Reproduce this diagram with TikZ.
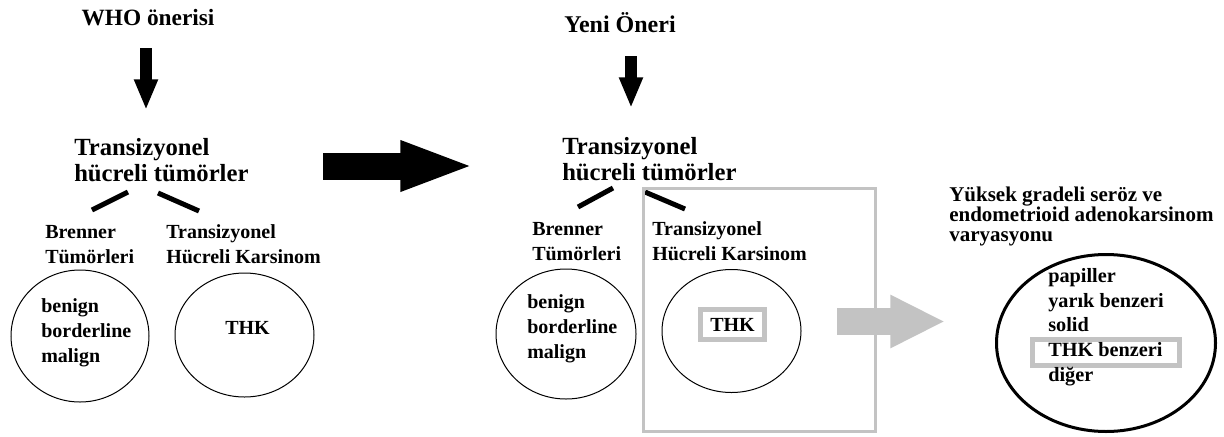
\documentclass[tikz,border=0pt]{standalone}
\usepackage{fontspec}
\setmainfont{Liberation Serif}
\usetikzlibrary{arrows.meta,shapes.geometric}
\definecolor{boxgray}{RGB}{195,195,195}

\begin{document}
\begin{tikzpicture}[x=0.75pt,y=0.75pt,yscale=-1,xscale=1,
    lbl/.style={anchor=north west, inner sep=0pt, align=left, font=\bfseries\fontsize{15}{18.75}\selectfont},
    ttl/.style={anchor=north west, inner sep=0pt, align=left, font=\bfseries\fontsize{18.5}{19.5}\selectfont},
    head/.style={anchor=base, inner sep=0pt, font=\bfseries\fontsize{17.5}{20}\selectfont},
    oval/.style={draw, ellipse, inner sep=0pt, line width=0.75pt},
    downarrow/.style={line width=9.5pt, -{Triangle[width=16.5pt,length=23pt]}},
    fatarrow/.style={line width=20.25pt, -{Triangle[width=34pt,length=56pt]}},
    grayarrow/.style={draw=boxgray, line width=20.25pt, -{Triangle[width=37pt,length=41pt]}},
    branch/.style={line width=3.75pt},
    graybox/.style={draw=boxgray, line width=4pt, inner sep=0pt},
  ]
        \useasboundingbox (0,0) rectangle (1224,436);

        % left: WHO
        \node (who) at (148,25) [head] {WHO önerisi};
        \node (ttl1) at (74,138) [ttl] {Transizyonel\\hücreli tümörler};
        \node (bren1) at (45,225) [lbl] {Brenner\\Tümörleri};
        \node (thc1) at (166,224) [lbl] {Transizyonel\\Hücreli Karsinom};
        \node (ov1) at (80,336) [oval, minimum width=103.5pt, minimum height=99pt] {};
        \node (ov2) at (244.5,335) [oval, minimum width=104.25pt, minimum height=93pt] {};
        \node (lst1) at (41,298) [lbl] {benign\\borderline\\malign};
        \node (thk1) at (247.5,334) [lbl, anchor=base] {THK};

        \coordinate (a1s) at (146,48);
        \coordinate (a1e) at (146,110);
        \draw [downarrow] (a1s) -- (a1e);
        \coordinate (b1a) at (92,210);
        \coordinate (b1b) at (128,192);
        \coordinate (b1c) at (158,193);
        \coordinate (b1d) at (199,211);
        \draw [branch] (b1a) -- (b1b);
        \draw [branch] (b1c) -- (b1d);

        % middle: new proposal
        \coordinate (fs) at (323,166);
        \coordinate (fe) at (475,166);
        \draw [fatarrow] (fs) -- (fe);

        \node (yeni) at (620,32) [head, font=\bfseries\fontsize{18}{20}\selectfont] {Yeni Öneri};
        \node (ttl2) at (562,137) [ttl] {Transizyonel\\hücreli tümörler};
        \node (bren2) at (532,222) [lbl] {Brenner\\Tümörleri};
        \node (thc2) at (652,221) [lbl] {Transizyonel\\Hücreli Karsinom};
        \node (ov3) at (566,334) [oval, minimum width=105pt, minimum height=97.5pt] {};
        \node (ov4) at (731.5,331) [oval, minimum width=104.25pt, minimum height=92.25pt] {};
        \node (lst2) at (527,294) [lbl] {benign\\borderline\\malign};
        \node (thk2) at (732.5,324.5) [graybox, minimum width=48pt, minimum height=22.5pt,
            font=\bfseries\fontsize{15}{18}\selectfont] {THK};

        \coordinate (a2s) at (631,56);
        \coordinate (a2e) at (631,108);
        \draw [downarrow] (a2s) -- (a2e);
        \coordinate (b2a) at (578,207);
        \coordinate (b2b) at (613,188);
        \coordinate (b2c) at (645,192);
        \coordinate (b2d) at (685,209);
        \draw [branch] (b2a) -- (b2b);
        \draw [branch] (b2c) -- (b2d);

        \coordinate (gs) at (837,321.5);
        \coordinate (ge) at (945,321.5);
        \draw [grayarrow] (gs) -- (ge);
        \node (frame) at (759.5,310) [draw=boxgray, line width=2.25pt, minimum width=174pt, minimum height=182.25pt] {};

        % right: variation
        \node (desc) at (949,187) [lbl, font=\bfseries\fontsize{15.75}{15}\selectfont]
            {Yüksek gradeli seröz ve\\endometrioid adenokarsinom\\varyasyonu};
        \node (ov5) at (1106,343) [oval, line width=2.25pt, minimum width=164.25pt, minimum height=132.75pt] {};
        \node (thkbox) at (1106,352.5) [graybox, minimum width=109.9pt, minimum height=19.1pt] {};
        \node (lst3) at (1048,268) [lbl, font=\bfseries\fontsize{15.2}{18.56}\selectfont]
            {papiller\\yarık benzeri\\solid\\THK benzeri\\diğer};
\end{tikzpicture}
\end{document}
